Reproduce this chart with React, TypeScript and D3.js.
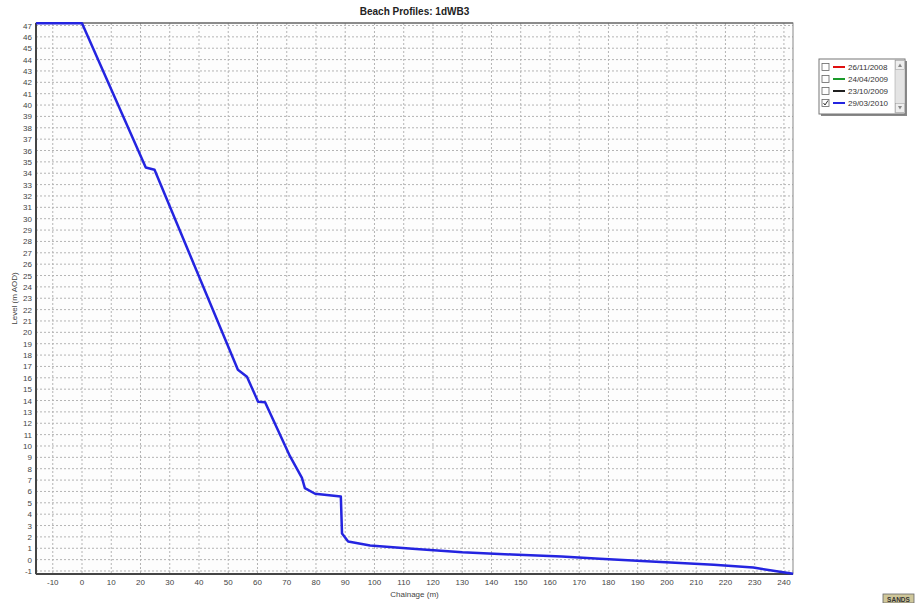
import React from "react";
import * as d3 from "d3";

const chainage = [-15.7, 0, 21.8, 24.8, 53.3, 56.4, 60.2, 62.6, 71.1, 75.2, 76.2, 79.7, 88.5, 88.9, 89.5, 91, 98.5, 113, 130, 147, 164, 177, 193, 216, 229.5, 243.1];
const level = [47.2, 47.2, 34.5, 34.3, 16.7, 16.1, 13.9, 13.85, 9.1, 7.2, 6.3, 5.8, 5.55, 2.3, 2.1, 1.6, 1.25, 0.95, 0.65, 0.45, 0.27, 0.08, -0.15, -0.45, -0.7, -1.25];
const xTicks = d3.range(-10, 241, 10);
const yTicks = d3.range(-1, 48, 1);
const legendDates = ["26/11/2008", "24/04/2009", "23/10/2009", "29/03/2010"];
const legendColors = ["#e01010", "#1a9a2a", "#202020", "#2424e0"];
const legendChecked = [false, false, false, true];

const W = 916, H = 603;
const L = 36, R = 793, T = 23, B = 574;

export default function App() {
  const x = d3.scaleLinear().domain([-15.73, 243.1]).range([L, R]);
  const y = d3.scaleLinear().domain([-1.264, 47.22]).range([B, T]);
  const pts = chainage.map((c, i) => [c, level[i]] as [number, number]);
  const line = d3.line<[number, number]>().x(d => x(d[0])).y(d => y(d[1]));
  const font = "Arial, 'Liberation Sans', sans-serif";
  return (
    <svg width={W} height={H} style={{ position: "absolute", left: 0, top: 0, background: "#fff" }} fontFamily={font}>
      <rect x={0} y={0} width={W} height={H} fill="#fff" />
      <text x={(L + R) / 2} y={15} textAnchor="middle" fontSize={10} fontWeight="bold" fill="#222">Beach Profiles: 1dWB3</text>
      <rect x={L} y={T} width={R - L} height={B - T} fill="#fdfdfd" />
      {yTicks.map(t => (
        <line key={"gy" + t} x1={L} x2={R} y1={y(t)} y2={y(t)} stroke="#b4b4b4" strokeWidth={1} strokeDasharray="2,2" />
      ))}
      {xTicks.map(t => (
        <line key={"gx" + t} x1={x(t)} x2={x(t)} y1={T} y2={B} stroke="#b4b4b4" strokeWidth={1} strokeDasharray="2,2" />
      ))}
      <rect x={L} y={T} width={R - L} height={B - T} fill="none" stroke="#888" strokeWidth={1} />
      <line x1={L} x2={L} y1={T} y2={B} stroke="#444" strokeWidth={2} />
      <line x1={L} x2={R} y1={B} y2={B} stroke="#444" strokeWidth={2} />
      <line x1={L} x2={R} y1={T} y2={T} stroke="#555" strokeWidth={1} />
      {yTicks.map(t => (
        <text key={"ty" + t} x={L - 4} y={y(t) + 3} textAnchor="end" fontSize={8} fill="#444">{t}</text>
      ))}
      {xTicks.map(t => (
        <text key={"tx" + t} x={x(t)} y={B + 11} textAnchor="middle" fontSize={8} fill="#444">{t}</text>
      ))}
      <text x={(L + R) / 2} y={597} textAnchor="middle" fontSize={8} fill="#444">Chainage (m)</text>
      <text transform={`translate(17,${(T + B) / 2}) rotate(-90)`} textAnchor="middle" fontSize={8} fill="#444">Level (m AOD)</text>
      <path d={line(pts) || ""} fill="none" stroke="#2424e0" strokeWidth={2.5} strokeLinejoin="round" />
      {/* legend */}
      <rect x={821} y={61} width={86} height={55} fill="#888" />
      <rect x={819} y={59} width={86} height={55} fill="#fff" stroke="#777" strokeWidth={1} />
      <rect x={895} y={60} width={10} height={53} fill="#e4e4e4" stroke="#999" strokeWidth={0.5} />
      <rect x={895.5} y={60.5} width={9} height={9} fill="#eee" stroke="#999" strokeWidth={0.5} />
      <path d="M898,67 L900,63.5 L902,67 Z" fill="#888" />
      <rect x={895.5} y={103.5} width={9} height={9} fill="#eee" stroke="#999" strokeWidth={0.5} />
      <path d="M898,106 L900,109.5 L902,106 Z" fill="#888" />
      {legendDates.map((d, i) => {
        const cy = 67 + i * 12;
        return (
          <g key={d}>
            <rect x={822} y={cy - 3.5} width={7} height={7} fill="#fff" stroke="#666" strokeWidth={0.8} />
            {legendChecked[i] && <path d={`M823.5,${cy} L825,${cy + 2} L828,${cy - 2.5}`} fill="none" stroke="#333" strokeWidth={1} />}
            <line x1={833} x2={845} y1={cy} y2={cy} stroke={legendColors[i]} strokeWidth={2} />
            <text x={848} y={cy + 3} fontSize={8} fill="#333">{d}</text>
          </g>
        );
      })}
      {/* SANDS badge */}
      <rect x={883} y={594} width={31} height={9} fill="#cfc79a" stroke="#666" strokeWidth={0.8} />
      <text x={898.5} y={601.5} textAnchor="middle" fontSize={6.5} fontWeight="bold" fill="#333">SANDS</text>
    </svg>
  );
}
